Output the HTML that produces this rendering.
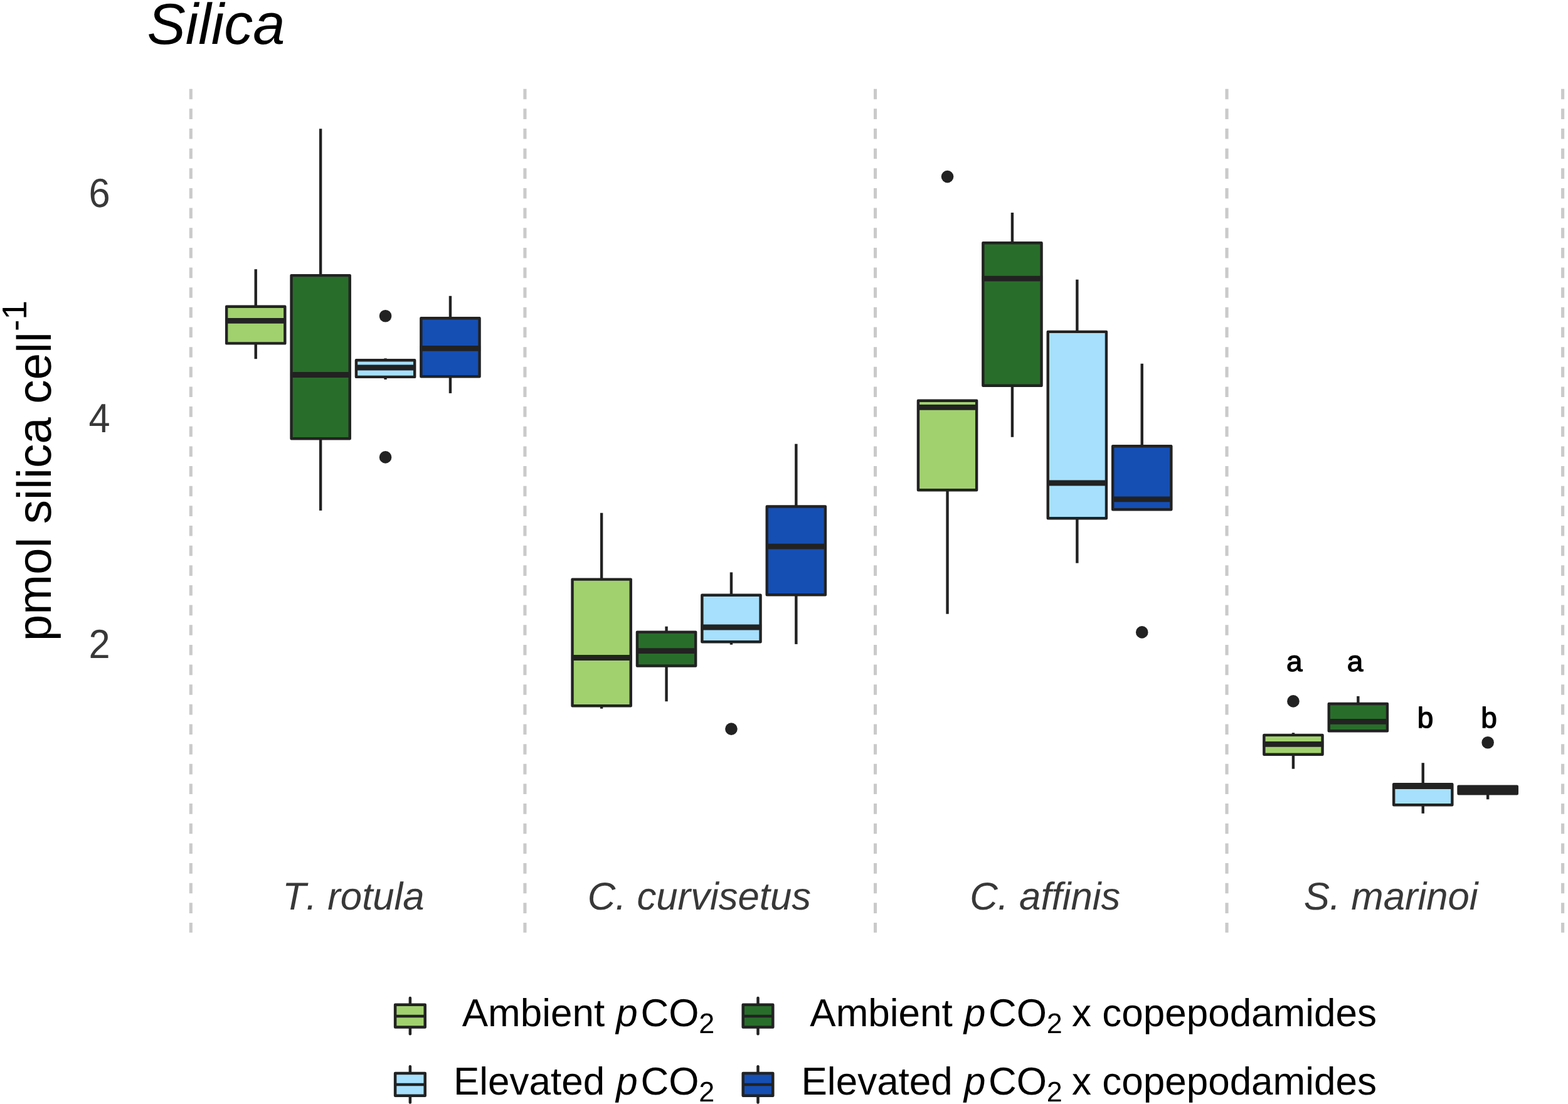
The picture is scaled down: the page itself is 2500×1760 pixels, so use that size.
<!DOCTYPE html>
<html lang="en"><head><meta charset="utf-8"><title>Silica</title>
<style>
html,body{margin:0;padding:0;background:#fff;}
body{width:2500px;height:1760px;overflow:hidden;}
svg{display:block;}
text{font-family:"Liberation Sans",Arial,Helvetica,sans-serif;font-kerning:none;font-variant-ligatures:none;text-rendering:geometricPrecision;}
.it{font-style:italic;}
.ax{fill:#383838;font-size:61.3px;}
.lg{fill:#000;font-size:62px;}
.sg{fill:#000;font-size:46px;stroke:#000;stroke-width:1.3px;stroke-linejoin:round;}
.bx{stroke:#222222;stroke-width:4.4;stroke-linejoin:round;}
.wh{stroke:#222222;stroke-width:4.4;fill:none;}
.md{stroke:#222222;stroke-width:8.8;fill:none;}
.vl{stroke:#CACACA;stroke-width:5.1;stroke-dasharray:16.6 15.05;fill:none;}
.ol{fill:#222222;}
</style></head><body>
<svg width="2500" height="1760" viewBox="0 0 2500 1760">
<rect x="0" y="0" width="2500" height="1760" fill="#ffffff"/>
<text class="it" x="234.5" y="70" font-size="92" fill="#000">Silica</text>
<text transform="translate(80.8,1022.2) rotate(-90)" font-size="76.5" fill="#000">pmol silica cell<tspan font-size="55" dx="1" dy="-38.6">-1</tspan></text>
<text class="ax" transform="translate(175.5,329.5) scale(1,1.06)" text-anchor="end">6</text>
<text class="ax" transform="translate(175.5,689.1) scale(1,1.06)" text-anchor="end">4</text>
<text class="ax" transform="translate(175.5,1048.7) scale(1,1.06)" text-anchor="end">2</text>
<line class="vl" x1="304.3" y1="141.7" x2="304.3" y2="1486.8"/>
<line class="vl" x1="836.95" y1="141.7" x2="836.95" y2="1486.8"/>
<line class="vl" x1="1395.55" y1="141.7" x2="1395.55" y2="1486.8"/>
<line class="vl" x1="1956.05" y1="141.7" x2="1956.05" y2="1486.8"/>
<line class="vl" x1="2491.6" y1="141.7" x2="2491.6" y2="1486.8"/>
<text class="ax it" style="font-size:61.7px" x="563.5" y="1450" text-anchor="middle">T. rotula</text>
<text class="ax it" style="font-size:61.7px" x="1114.9" y="1450" text-anchor="middle">C. curvisetus</text>
<text class="ax it" style="font-size:61.7px" x="1666.3" y="1450" text-anchor="middle">C. affinis</text>
<text class="ax it" style="font-size:61.7px" x="2217.7" y="1450" text-anchor="middle">S. marinoi</text>
<line class="wh" x1="407.75" y1="429.2" x2="407.75" y2="488.8"/>
<line class="wh" x1="407.75" y1="547.4" x2="407.75" y2="572.2"/>
<rect class="bx" x="361.15" y="488.8" width="93.2" height="58.6" fill="#A1D16E"/>
<line class="md" x1="359.55" y1="511.3" x2="455.95" y2="511.3"/>
<line class="wh" x1="511.15" y1="205.2" x2="511.15" y2="439.1"/>
<line class="wh" x1="511.15" y1="699.3" x2="511.15" y2="813.9"/>
<rect class="bx" x="464.55" y="439.1" width="93.2" height="260.2" fill="#286E2A"/>
<line class="md" x1="462.95" y1="597.5" x2="559.35" y2="597.5"/>
<circle class="ol" cx="614.55" cy="503.8" r="9.8"/>
<circle class="ol" cx="614.55" cy="728.9" r="9.8"/>
<line class="wh" x1="614.55" y1="571.3" x2="614.55" y2="574.2"/>
<line class="wh" x1="614.55" y1="600.9" x2="614.55" y2="605"/>
<rect class="bx" x="567.95" y="574.2" width="93.2" height="26.7" fill="#A6E0FC"/>
<line class="md" x1="566.35" y1="586" x2="662.75" y2="586"/>
<line class="wh" x1="717.95" y1="471.8" x2="717.95" y2="507.3"/>
<line class="wh" x1="717.95" y1="600.2" x2="717.95" y2="626.9"/>
<rect class="bx" x="671.35" y="507.3" width="93.2" height="92.9" fill="#154FB4"/>
<line class="md" x1="669.75" y1="555.3" x2="766.15" y2="555.3"/>
<line class="wh" x1="959.15" y1="817.7" x2="959.15" y2="923.6"/>
<line class="wh" x1="959.15" y1="1125.2" x2="959.15" y2="1129.7"/>
<rect class="bx" x="912.55" y="923.6" width="93.2" height="201.6" fill="#A1D16E"/>
<line class="md" x1="910.95" y1="1048.5" x2="1007.35" y2="1048.5"/>
<line class="wh" x1="1062.55" y1="998.7" x2="1062.55" y2="1007.6"/>
<line class="wh" x1="1062.55" y1="1061.5" x2="1062.55" y2="1118.2"/>
<rect class="bx" x="1015.95" y="1007.6" width="93.2" height="53.9" fill="#286E2A"/>
<line class="md" x1="1014.35" y1="1037.6" x2="1110.75" y2="1037.6"/>
<circle class="ol" cx="1165.95" cy="1162.1" r="9.8"/>
<line class="wh" x1="1165.95" y1="912.4" x2="1165.95" y2="948.7"/>
<line class="wh" x1="1165.95" y1="1023.2" x2="1165.95" y2="1027.7"/>
<rect class="bx" x="1119.35" y="948.7" width="93.2" height="74.5" fill="#A6E0FC"/>
<line class="md" x1="1117.75" y1="1000" x2="1214.15" y2="1000"/>
<line class="wh" x1="1269.35" y1="707.7" x2="1269.35" y2="807.5"/>
<line class="wh" x1="1269.35" y1="948.3" x2="1269.35" y2="1026.9"/>
<rect class="bx" x="1222.75" y="807.5" width="93.2" height="140.8" fill="#154FB4"/>
<line class="md" x1="1221.15" y1="871.1" x2="1317.55" y2="871.1"/>
<circle class="ol" cx="1510.55" cy="281.6" r="9.8"/>
<line class="wh" x1="1510.55" y1="781.2" x2="1510.55" y2="978.7"/>
<rect class="bx" x="1463.95" y="638.8" width="93.2" height="142.4" fill="#A1D16E"/>
<line class="md" x1="1462.35" y1="649.4" x2="1558.75" y2="649.4"/>
<line class="wh" x1="1613.95" y1="339" x2="1613.95" y2="387.3"/>
<line class="wh" x1="1613.95" y1="614.8" x2="1613.95" y2="696.8"/>
<rect class="bx" x="1567.35" y="387.3" width="93.2" height="227.5" fill="#286E2A"/>
<line class="md" x1="1565.75" y1="444.2" x2="1662.15" y2="444.2"/>
<line class="wh" x1="1717.35" y1="445.7" x2="1717.35" y2="528.9"/>
<line class="wh" x1="1717.35" y1="826.3" x2="1717.35" y2="897.7"/>
<rect class="bx" x="1670.75" y="528.9" width="93.2" height="297.4" fill="#A6E0FC"/>
<line class="md" x1="1669.15" y1="770" x2="1765.55" y2="770"/>
<circle class="ol" cx="1820.75" cy="1007.9" r="9.8"/>
<line class="wh" x1="1820.75" y1="579.7" x2="1820.75" y2="711.2"/>
<rect class="bx" x="1774.15" y="711.2" width="93.2" height="101" fill="#154FB4"/>
<line class="md" x1="1772.55" y1="795.9" x2="1868.95" y2="795.9"/>
<circle class="ol" cx="2061.95" cy="1117.9" r="9.8"/>
<line class="wh" x1="2061.95" y1="1168.2" x2="2061.95" y2="1171.9"/>
<line class="wh" x1="2061.95" y1="1202.8" x2="2061.95" y2="1225.7"/>
<rect class="bx" x="2015.35" y="1171.9" width="93.2" height="30.9" fill="#A1D16E"/>
<line class="md" x1="2013.75" y1="1186.3" x2="2110.15" y2="1186.3"/>
<line class="wh" x1="2165.35" y1="1109.9" x2="2165.35" y2="1122"/>
<rect class="bx" x="2118.75" y="1122" width="93.2" height="43.2" fill="#286E2A"/>
<line class="md" x1="2117.15" y1="1150.3" x2="2213.55" y2="1150.3"/>
<line class="wh" x1="2268.75" y1="1216.2" x2="2268.75" y2="1250.2"/>
<line class="wh" x1="2268.75" y1="1283.2" x2="2268.75" y2="1296.8"/>
<rect class="bx" x="2222.15" y="1250.2" width="93.2" height="33" fill="#A6E0FC"/>
<line class="md" x1="2220.55" y1="1253.7" x2="2316.95" y2="1253.7"/>
<circle class="ol" cx="2372.15" cy="1183.8" r="9.8"/>
<line class="wh" x1="2372.15" y1="1265.3" x2="2372.15" y2="1274.3"/>
<rect class="bx" x="2325.55" y="1253.6" width="93.2" height="11.7" fill="#154FB4"/>
<line class="md" x1="2323.95" y1="1259.4" x2="2420.35" y2="1259.4"/>
<text class="sg" x="2063.8" y="1069.7" text-anchor="middle">a</text>
<text class="sg" x="2160.5" y="1069.7" text-anchor="middle">a</text>
<text class="sg" x="2272.6" y="1159.8" text-anchor="middle">b</text>
<text class="sg" x="2374" y="1159.8" text-anchor="middle">b</text>
<line class="wh" style="stroke-width:4.5" stroke-linecap="round" x1="653.9" y1="1591.1" x2="653.9" y2="1648.3"/>
<rect class="bx" style="stroke-width:4.5" x="630.1" y="1601.8" width="47.6" height="35.8" fill="#A1D16E"/>
<line class="wh" style="stroke-width:4.5" x1="630.1" y1="1619.9" x2="677.7" y2="1619.9"/>
<text class="lg" x="964.2" y="1635.6" text-anchor="end">Ambient</text>
<text class="lg it" x="982.3" y="1635.6">p</text>
<text class="lg" x="1021.4" y="1635.6">CO</text>
<text class="lg" x="1114.2" y="1647.2" style="font-size:45px">2</text>
<line class="wh" style="stroke-width:4.5" stroke-linecap="round" x1="1208.5" y1="1591.1" x2="1208.5" y2="1648.3"/>
<rect class="bx" style="stroke-width:4.5" x="1184.7" y="1601.8" width="47.6" height="35.8" fill="#286E2A"/>
<line class="wh" style="stroke-width:4.5" x1="1184.7" y1="1619.9" x2="1232.3" y2="1619.9"/>
<text class="lg" x="1518.8" y="1635.6" text-anchor="end">Ambient</text>
<text class="lg it" x="1536.9" y="1635.6">p</text>
<text class="lg" x="1576" y="1635.6">CO</text>
<text class="lg" x="1668.8" y="1647.2" style="font-size:45px">2</text>
<text class="lg" x="1709" y="1635.6">x copepodamides</text>
<line class="wh" style="stroke-width:4.5" stroke-linecap="round" x1="653.9" y1="1700.3" x2="653.9" y2="1757.5"/>
<rect class="bx" style="stroke-width:4.5" x="630.1" y="1711" width="47.6" height="35.8" fill="#A6E0FC"/>
<line class="wh" style="stroke-width:4.5" x1="630.1" y1="1729.1" x2="677.7" y2="1729.1"/>
<text class="lg" x="964.2" y="1744.8" text-anchor="end">Elevated</text>
<text class="lg it" x="982.3" y="1744.8">p</text>
<text class="lg" x="1021.4" y="1744.8">CO</text>
<text class="lg" x="1114.2" y="1756.4" style="font-size:45px">2</text>
<line class="wh" style="stroke-width:4.5" stroke-linecap="round" x1="1208.5" y1="1700.3" x2="1208.5" y2="1757.5"/>
<rect class="bx" style="stroke-width:4.5" x="1184.7" y="1711" width="47.6" height="35.8" fill="#154FB4"/>
<line class="wh" style="stroke-width:4.5" x1="1184.7" y1="1729.1" x2="1232.3" y2="1729.1"/>
<text class="lg" x="1518.8" y="1744.8" text-anchor="end">Elevated</text>
<text class="lg it" x="1536.9" y="1744.8">p</text>
<text class="lg" x="1576" y="1744.8">CO</text>
<text class="lg" x="1668.8" y="1756.4" style="font-size:45px">2</text>
<text class="lg" x="1709" y="1744.8">x copepodamides</text>
</svg>
</body></html>
